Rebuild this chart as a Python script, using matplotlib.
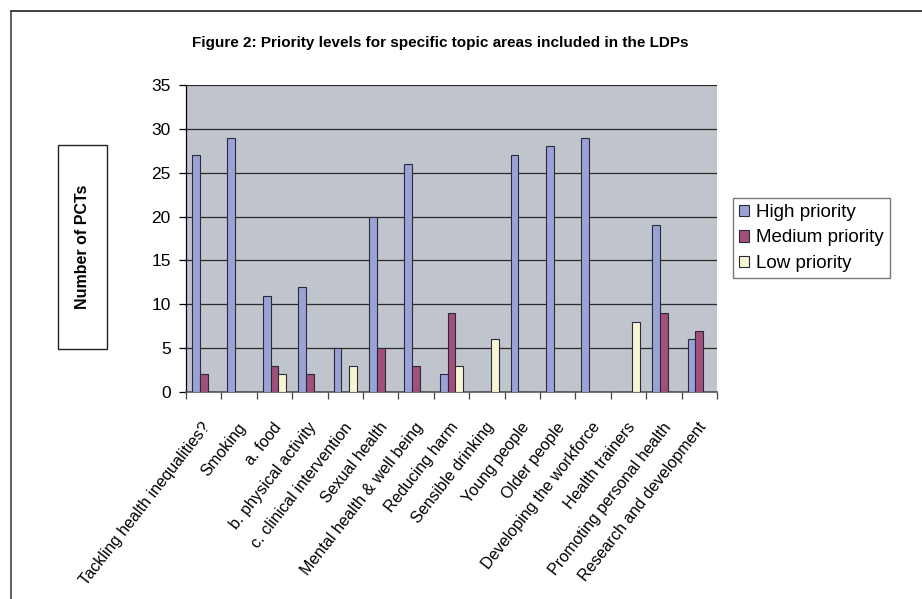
import numpy as np
import matplotlib
matplotlib.use('Agg')
from matplotlib import pyplot as plt
from matplotlib.lines import Line2D
from matplotlib.patches import Rectangle

topics = [
    'Tackling health inequalities?', 'Smoking', 'a. food', 'b. physical activity',
    'c. clinical intervention', 'Sexual health', 'Mental health & well being',
    'Reducing harm', 'Sensible drinking', 'Young people', 'Older people',
    'Developing the workforce', 'Health trainers', 'Promoting personal health',
    'Research and development',
]
high = [27, 29, 11, 12, 5, 20, 26, 2, 0, 27, 28, 29, 0, 19, 6]
medium = [2, 0, 3, 2, 0, 5, 3, 9, 0, 0, 0, 0, 0, 9, 7]
low = [0, 0, 2, 0, 3, 0, 0, 3, 6, 0, 0, 0, 8, 0, 0]

plt.rcParams['font.family'] = ['Liberation Sans', 'DejaVu Sans']

W, H = 922, 599
fig = plt.figure(figsize=(W / 100, H / 100), dpi=100)
ax = fig.add_axes([186 / W, 1 - 392 / H, (717 - 186) / W, (392 - 85) / H])

x = np.arange(len(topics))
w = 1 / 4.5
series = [
    ('High priority', high, '#99a3d6'),
    ('Medium priority', medium, '#a0507a'),
    ('Low priority', low, '#f8f6d2'),
]
for i, (name, vals, col) in enumerate(series):
    ax.bar(x + (i - 1) * w, vals, w, color=col, edgecolor='#2a2a3a',
           linewidth=0.8, label=name, zorder=3)

ax.set_facecolor('#c0c4cc')
ax.set_xlim(-0.5, len(topics) - 0.5)
ax.set_ylim(0, 35)
ax.set_yticks(range(0, 36, 5))
ax.yaxis.grid(True, color='#2a2a2a', linewidth=0.9, zorder=1)
ax.tick_params(axis='y', labelsize=12.5, length=5, width=0.9, pad=6)

# category boundaries get the tick marks, centres get the labels
ax.set_xticks(np.arange(-0.5, len(topics), 1), minor=False)
ax.set_xticklabels([])
ax.set_xticks(x - 0.05, minor=True)
ax.set_xticklabels(topics, minor=True, rotation=52, ha='right',
                   rotation_mode='anchor', fontsize=11.6)
ax.tick_params(axis='x', which='major', length=5, width=0.9, color='#444444')
ax.tick_params(axis='x', which='minor', length=0, pad=20)

for s in ['top', 'right']:
    ax.spines[s].set_visible(False)
ax.spines['left'].set_linewidth(0.9)
ax.spines['bottom'].set_linewidth(1.2)
ax.spines['bottom'].set_color('#555555')

fig.text(440 / W, 1 - 43 / H,
         'Figure 2: Priority levels for specific topic areas included in the LDPs',
         ha='center', va='center', fontsize=11, fontweight='bold')

# boxed y-axis label
fig.patches.append(Rectangle((58 / W, 1 - 349 / H), 49 / W, 204 / H,
                             transform=fig.transFigure, fill=False,
                             edgecolor='#222222', linewidth=1))
fig.text(82.5 / W, 1 - 247 / H, 'Number of PCTs', rotation=90,
         ha='center', va='center', fontsize=11.5, fontweight='bold')

leg = ax.legend(loc='center left', bbox_to_anchor=(733 / W, 1 - 238 / H),
                bbox_transform=fig.transFigure, frameon=True, fancybox=False,
                fontsize=13.5, handlelength=0.55, handleheight=0.55,
                handletextpad=0.4, labelspacing=0.45, borderpad=0.3,
                borderaxespad=0)
leg.get_frame().set_edgecolor('#555555')
leg.get_frame().set_linewidth(1)

# page frame
fig.lines.append(Line2D([11 / W, 1], [1 - 11 / H, 1 - 11 / H],
                        transform=fig.transFigure, color='#222222', linewidth=1.2))
fig.lines.append(Line2D([11 / W, 11 / W], [0, 1 - 11 / H],
                        transform=fig.transFigure, color='#444444', linewidth=1.2))

fig.savefig('out.png', dpi=100)
